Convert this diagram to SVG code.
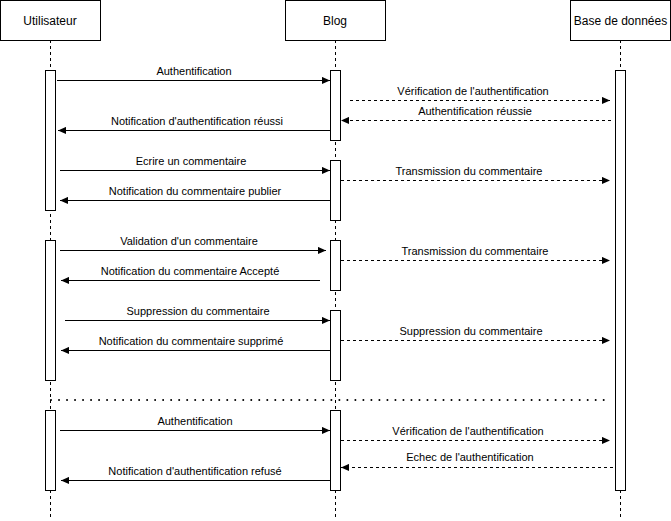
<svg xmlns="http://www.w3.org/2000/svg" width="671" height="521" viewBox="0 0 671 521">
<defs>
<marker id="arr" viewBox="0 0 10 10" refX="10" refY="5" markerWidth="8" markerHeight="8" markerUnits="userSpaceOnUse" orient="auto">
<path d="M0,0.5 L10,5 L0,9.5 Z" fill="#000"/>
</marker>
</defs>
<style>
.box{fill:#fff;stroke:#000;stroke-width:1}
.life{stroke:#000;stroke-width:1;stroke-dasharray:3 3;fill:none}
.bar{fill:#fff;stroke:#000;stroke-width:1}
.hdr{font-family:"Liberation Sans",Arial,sans-serif;font-size:12px;fill:#000;text-anchor:middle}
.lbl{font-family:"Liberation Sans",Arial,sans-serif;font-size:11px;fill:#000;text-anchor:middle}
.msg{stroke:#000;stroke-width:1;fill:none;marker-end:url(#arr)}
.ret{stroke:#000;stroke-width:1;fill:none;stroke-dasharray:3 3;marker-end:url(#arr)}
.sep{stroke:#000;stroke-width:2;stroke-dasharray:0.01 8;stroke-linecap:round;fill:none}
</style>
<rect width="671" height="521" fill="#fff"/>
<g id="utilisateur">
<line class="life" x1="50.5" y1="40" x2="50.5" y2="520"/>
<rect class="box" x="0.5" y="0.5" width="100" height="40"/>
<text class="hdr" x="50" y="24.5">Utilisateur</text>
<rect class="bar" x="45.5" y="70.5" width="10" height="140"/>
<rect class="bar" x="45.5" y="240.5" width="10" height="140"/>
<rect class="bar" x="45.5" y="410.5" width="10" height="80"/>
</g>
<g id="blog">
<line class="life" x1="335.5" y1="40" x2="335.5" y2="520"/>
<rect class="box" x="285.5" y="0.5" width="100" height="40"/>
<text class="hdr" x="335" y="24.5">Blog</text>
<rect class="bar" x="330.5" y="70.5" width="10" height="70"/>
<rect class="bar" x="330.5" y="160.5" width="10" height="60"/>
<rect class="bar" x="330.5" y="240.5" width="10" height="50"/>
<rect class="bar" x="330.5" y="310.5" width="10" height="70"/>
<rect class="bar" x="330.5" y="410.5" width="10" height="80"/>
</g>
<g id="base-de-donnees">
<line class="life" x1="620.5" y1="40" x2="620.5" y2="520"/>
<rect class="box" x="570.5" y="0.5" width="100" height="40"/>
<text class="hdr" x="620.5" y="24.5">Base de données</text>
<rect class="bar" x="615.5" y="70.5" width="10" height="420"/>
</g>
<g id="connectors">
<line class="sep" x1="51" y1="400" x2="606" y2="400"/>
<line class="msg" x1="57" y1="80.5" x2="330" y2="80.5"/>
<text class="lbl" x="194" y="75">Authentification</text>
<line class="ret" x1="350" y1="100.5" x2="610" y2="100.5"/>
<text class="lbl" x="473" y="95">Vérification de l'authentification</text>
<line class="ret" x1="611" y1="120.5" x2="341" y2="120.5"/>
<text class="lbl" x="475" y="115">Authentification réussie</text>
<line class="msg" x1="330" y1="130.5" x2="58" y2="130.5"/>
<text class="lbl" x="197" y="125">Notification d'authentification réussi</text>
<line class="msg" x1="60" y1="170.5" x2="330" y2="170.5"/>
<text class="lbl" x="191" y="165">Ecrire un commentaire</text>
<line class="ret" x1="341" y1="180.5" x2="610" y2="180.5"/>
<text class="lbl" x="469" y="175">Transmission du commentaire</text>
<line class="msg" x1="330" y1="200.5" x2="60" y2="200.5"/>
<text class="lbl" x="195" y="195">Notification du commentaire publier</text>
<line class="msg" x1="60" y1="250.5" x2="326" y2="250.5"/>
<text class="lbl" x="189" y="245">Validation d'un commentaire</text>
<line class="ret" x1="341" y1="260.5" x2="610" y2="260.5"/>
<text class="lbl" x="475" y="255">Transmission du commentaire</text>
<line class="msg" x1="320" y1="280.5" x2="61" y2="280.5"/>
<text class="lbl" x="190" y="275">Notification du commentaire Accepté</text>
<line class="msg" x1="65" y1="320.5" x2="330" y2="320.5"/>
<text class="lbl" x="198" y="315">Suppression du commentaire</text>
<line class="ret" x1="341" y1="340.5" x2="610" y2="340.5"/>
<text class="lbl" x="471" y="335">Suppression du commentaire</text>
<line class="msg" x1="330" y1="350.5" x2="61" y2="350.5"/>
<text class="lbl" x="191" y="345">Notification du commentaire supprimé</text>
<line class="msg" x1="60" y1="430.5" x2="330" y2="430.5"/>
<text class="lbl" x="195" y="425">Authentification</text>
<line class="ret" x1="341" y1="440.5" x2="610" y2="440.5"/>
<text class="lbl" x="468" y="435">Vérification de l'authentification</text>
<line class="ret" x1="613" y1="467.5" x2="341" y2="467.5"/>
<text class="lbl" x="470" y="461">Echec de l'authentification</text>
<line class="msg" x1="330" y1="480.5" x2="61" y2="480.5"/>
<text class="lbl" x="195" y="475">Notification d'authentification refusé</text>
</g>
</svg>
